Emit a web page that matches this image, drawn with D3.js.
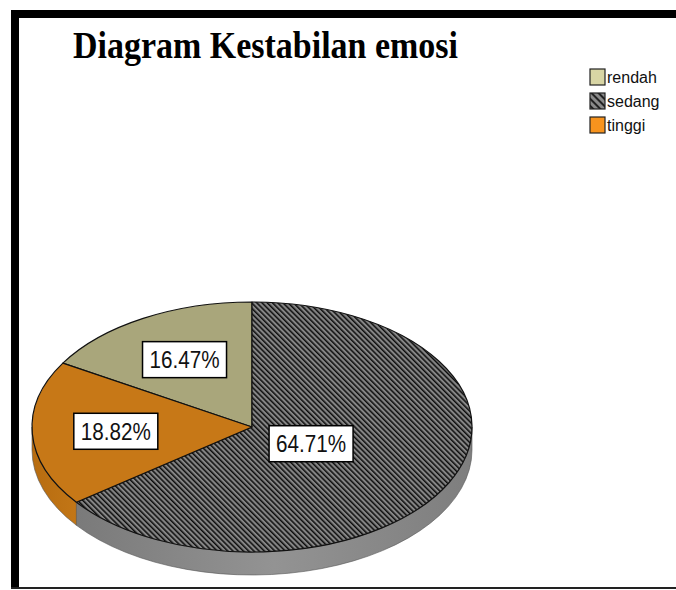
<!DOCTYPE html>
<html>
<head>
<meta charset="utf-8">
<script src="https://cdn.jsdelivr.net/npm/d3@7"></script>
<style>
  body { margin: 0; background: #fff; }
</style>
</head>
<body>
<div id="chart"></div>
<script>
const categories = ["rendah", "sedang", "tinggi"];
const percents = [16.47, 64.71, 18.82];
const labels = ["16.47%", "64.71%", "18.82%"];

const width = 676;
const height = 590;

const topColors = { rendah: "#a9a67b", sedang: "url(#hatch)", tinggi: "#c77817" };
const sideColors = { rendah: "#8a875f", sedang: "url(#sideGrey)", tinggi: "url(#sideOrange)" };
const legendColors = { rendah: "#d8d5a4", sedang: "url(#hatchLegend)", tinggi: "#f7931e" };

const data = categories.map((c, i) => ({ cat: c, value: percents[i], label: labels[i] }));

const svg = d3.select("#chart")
  .append("svg")
    .attr("width", width)
    .attr("height", height);

const defs = svg.append("defs");

// diagonal hatch for "sedang"
const hatch = defs.append("pattern")
    .attr("id", "hatch")
    .attr("patternUnits", "userSpaceOnUse")
    .attr("width", 3.7)
    .attr("height", 3.7)
    .attr("patternTransform", "rotate(-45)");
hatch.append("rect").attr("width", 3.7).attr("height", 3.7).attr("fill", "#858585");
hatch.append("rect").attr("width", 1.5).attr("height", 3.7).attr("fill", "#0d0d0d");

const hatchL = defs.append("pattern")
    .attr("id", "hatchLegend")
    .attr("patternUnits", "userSpaceOnUse")
    .attr("width", 5)
    .attr("height", 5)
    .attr("patternTransform", "rotate(-45)");
hatchL.append("rect").attr("width", 5).attr("height", 5).attr("fill", "#8a8a8a");
hatchL.append("rect").attr("width", 2).attr("height", 5).attr("fill", "#222");

const gGrey = defs.append("linearGradient").attr("id", "sideGrey");
gGrey.append("stop").attr("offset", "0%").attr("stop-color", "#7a7a7a");
gGrey.append("stop").attr("offset", "50%").attr("stop-color", "#939393");
gGrey.append("stop").attr("offset", "100%").attr("stop-color", "#7e7e7e");

const gOrange = defs.append("linearGradient").attr("id", "sideOrange");
gOrange.append("stop").attr("offset", "0%").attr("stop-color", "#b76c10");
gOrange.append("stop").attr("offset", "100%").attr("stop-color", "#c27616");

// frame
svg.append("rect").attr("x", 11).attr("y", 10).attr("width", 8).attr("height", 579).attr("fill", "#000");
svg.append("rect").attr("x", 11).attr("y", 10).attr("width", width - 11).attr("height", 8).attr("fill", "#000");
svg.append("rect").attr("x", 11).attr("y", 587).attr("width", width - 11).attr("height", 2).attr("fill", "#222");

// title
svg.append("text")
    .attr("x", 73)
    .attr("y", 58)
    .attr("textLength", 385)
    .attr("lengthAdjust", "spacingAndGlyphs")
    .style("font-family", "'Liberation Serif', 'Times New Roman', serif")
    .style("font-weight", "bold")
    .style("font-size", "37px")
    .text("Diagram Kestabilan emosi");

// 3D pie
const cx = 252, cy = 427, rx = 220, ry = 125, depth = 23;
const startA = -(percents[0] / 100) * 2 * Math.PI;

const pie = d3.pie()
  .sort(null)
  .value((d) => d.value)
  .startAngle(startA)
  .endAngle(startA + 2 * Math.PI);

const arcs = pie(data);

const pt = (a, dy = 0) => [cx + rx * Math.sin(a), cy - ry * Math.cos(a) + dy];

const topPath = (d) => {
  const p0 = pt(d.startAngle), p1 = pt(d.endAngle);
  const large = d.endAngle - d.startAngle > Math.PI ? 1 : 0;
  return `M${cx},${cy}L${p0}A${rx},${ry} 0 ${large} 1 ${p1}Z`;
};

const sidePath = (d) => {
  // visible lower half: angles between PI/2 and 3PI/2
  const norm = (a) => ((a % (2 * Math.PI)) + 2 * Math.PI) % (2 * Math.PI);
  let a0 = norm(d.startAngle);
  let a1 = a0 + (d.endAngle - d.startAngle);
  a0 = Math.max(a0, Math.PI / 2);
  a1 = Math.min(a1, 3 * Math.PI / 2);
  if (a1 <= a0) return null;
  const p0 = pt(a0), p1 = pt(a1), q0 = pt(a0, depth), q1 = pt(a1, depth);
  const large = a1 - a0 > Math.PI ? 1 : 0;
  return `M${p0}A${rx},${ry} 0 ${large} 1 ${p1}L${q1}A${rx},${ry} 0 ${large} 0 ${q0}Z`;
};

const pieG = svg.append("g");

pieG.selectAll(".side")
  .data(arcs.filter((d) => sidePath(d)))
  .join("path")
    .attr("class", "side")
    .attr("d", sidePath)
    .attr("fill", (d) => sideColors[d.data.cat])
    .attr("stroke", "#555")
    .attr("stroke-width", 0.6);

pieG.selectAll(".slice")
  .data(arcs)
  .join("path")
    .attr("class", "slice")
    .attr("d", topPath)
    .attr("fill", (d) => topColors[d.data.cat])
    .attr("stroke", "#111")
    .attr("stroke-width", 1.2)
    .attr("stroke-linejoin", "round");

// labels
const labelR = (d) => (d.data.cat === "sedang" ? 0.3 : 0.62);
const boxW = 84, boxH = 36;

const lab = pieG.selectAll(".lab")
  .data(arcs)
  .join("g")
    .attr("class", "lab")
    .attr("transform", (d) => {
      const mid = (d.startAngle + d.endAngle) / 2;
      const r = labelR(d);
      const x = cx + rx * r * Math.sin(mid);
      const y = cy - ry * r * Math.cos(mid);
      return `translate(${x},${y})`;
    });

lab.append("rect")
    .attr("x", -boxW / 2)
    .attr("y", -boxH / 2)
    .attr("width", boxW)
    .attr("height", boxH)
    .attr("fill", "#fff")
    .attr("stroke", "#000")
    .attr("stroke-width", 1.5);

lab.append("text")
    .attr("x", 0)
    .attr("y", 8.5)
    .attr("text-anchor", "middle")
    .attr("textLength", 70)
    .attr("lengthAdjust", "spacingAndGlyphs")
    .style("font-family", "'Liberation Sans', Arial, sans-serif")
    .style("font-size", "24px")
    .attr("fill", "#111")
    .text((d) => d.data.label);

// legend
const legend = svg.append("g").attr("transform", "translate(590, 69)");
const item = legend.selectAll(".item")
  .data(categories)
  .join("g")
    .attr("class", "item")
    .attr("transform", (d, i) => `translate(0, ${i * 24})`);

item.append("rect")
    .attr("width", 15)
    .attr("height", 16)
    .attr("fill", (d) => legendColors[d])
    .attr("stroke", "#222")
    .attr("stroke-width", 1.2);

item.append("text")
    .attr("x", 17)
    .attr("y", 14)
    .style("font-family", "'Liberation Sans', Arial, sans-serif")
    .style("font-size", "16px")
    .attr("fill", "#111")
    .text((d) => d);
</script>
</body>
</html>
